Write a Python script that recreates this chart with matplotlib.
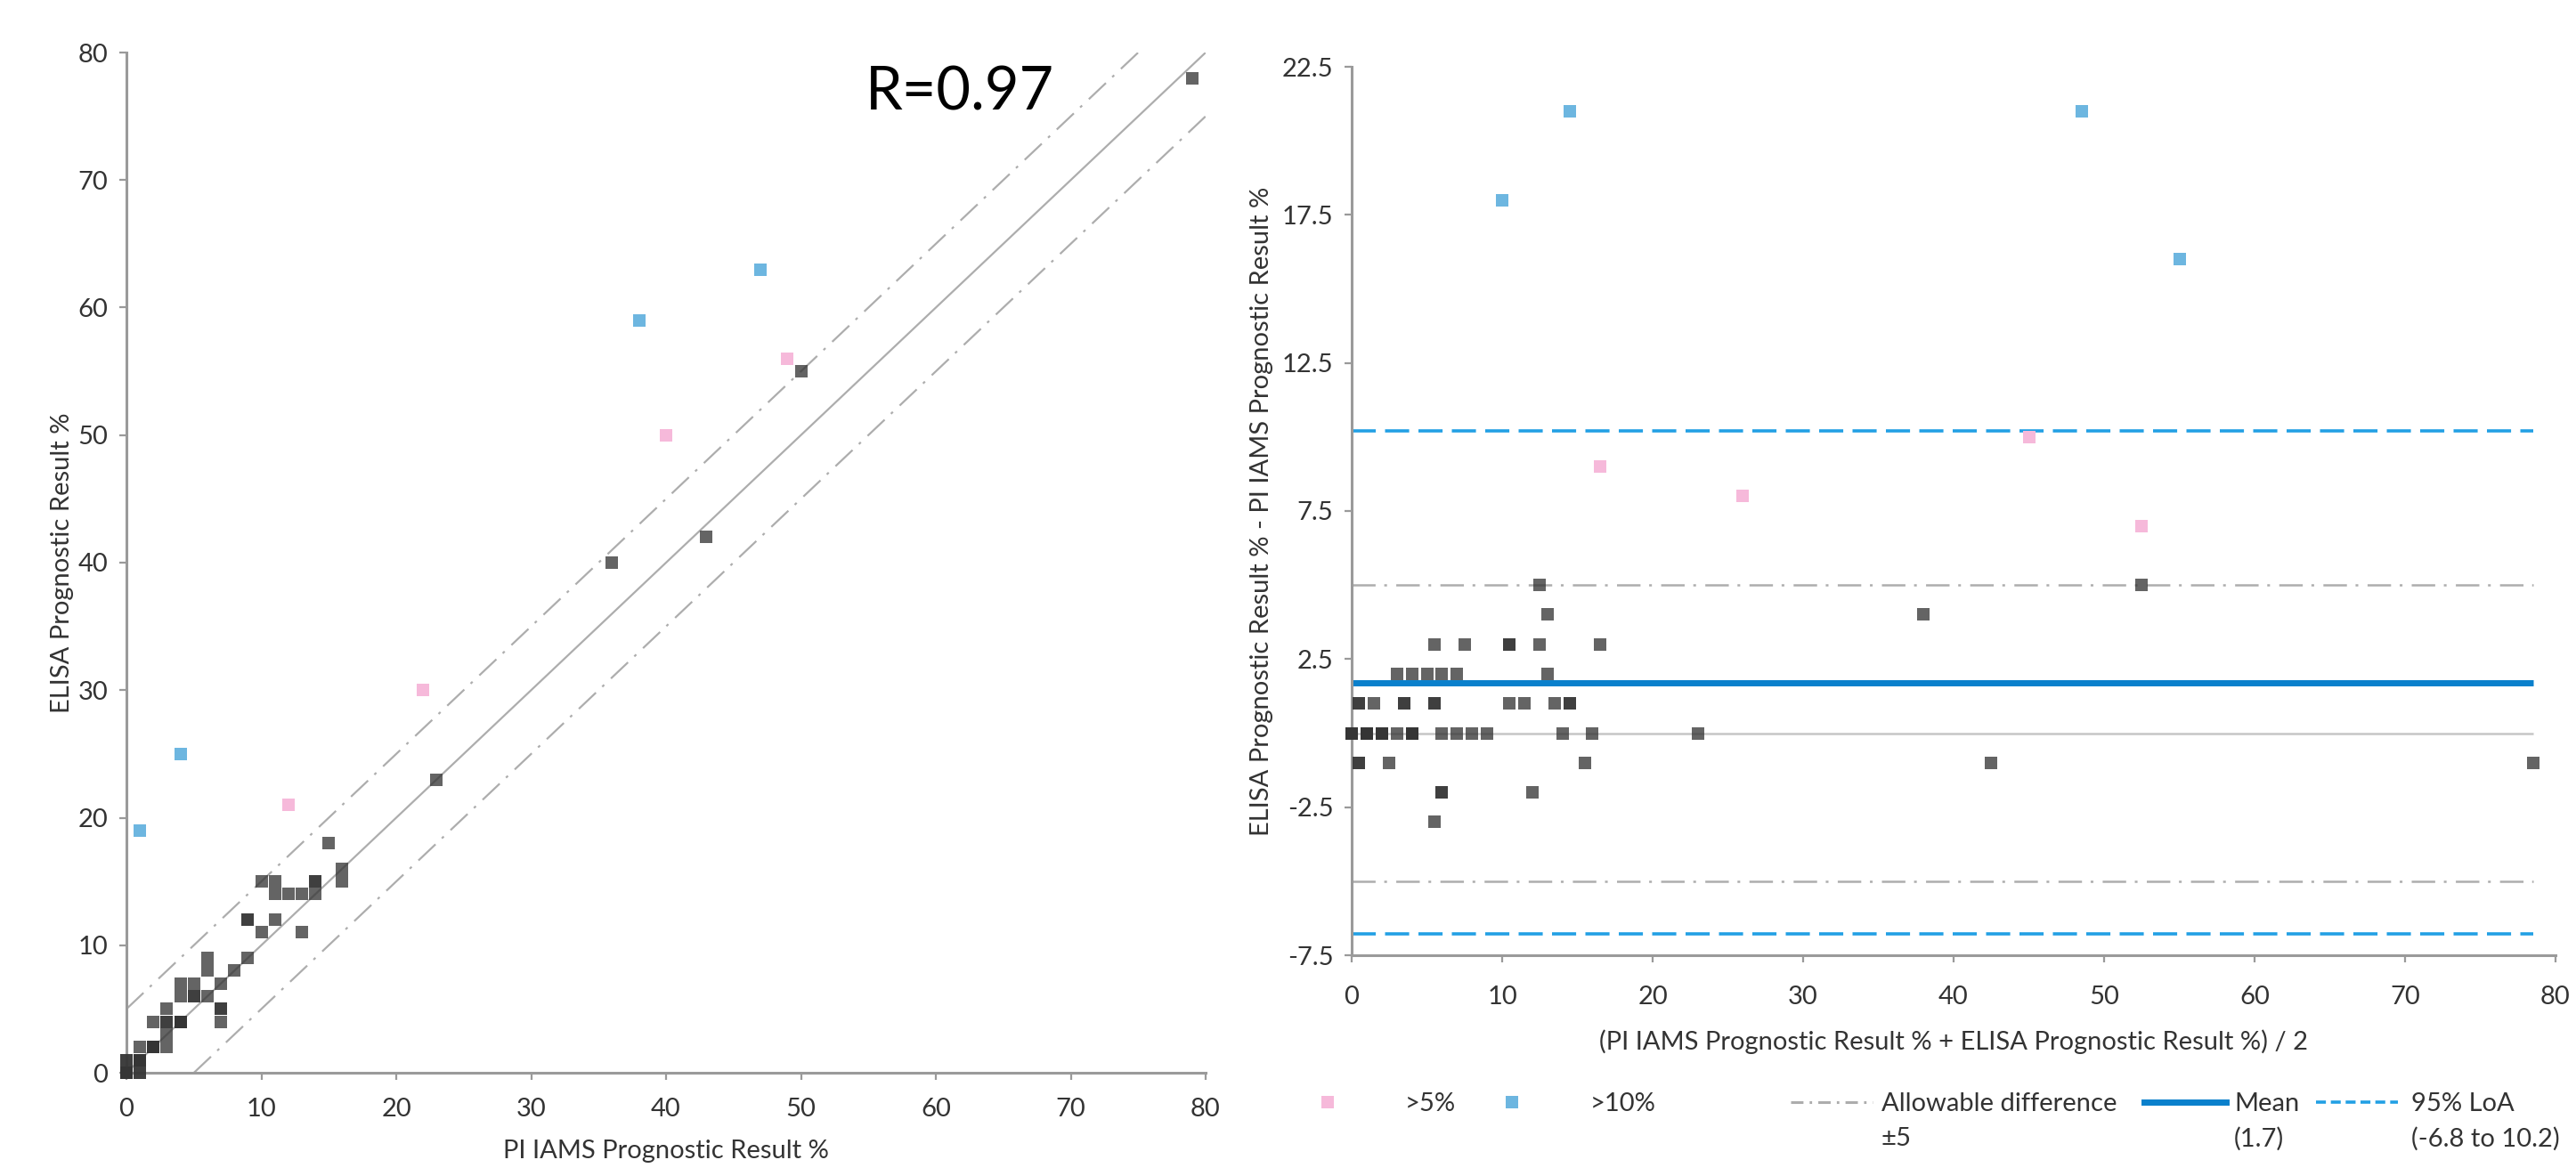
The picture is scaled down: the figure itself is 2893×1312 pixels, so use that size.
import numpy as np
import matplotlib
matplotlib.use("Agg")
import matplotlib.pyplot as plt
from matplotlib.lines import Line2D

plt.rcParams['font.family'] = ['Lato', 'DejaVu Sans']
plt.rcParams['axes.unicode_minus'] = False
plt.rcParams['lines.scale_dashes'] = False

# ---------------- data ----------------
# samples within +/-5 (grey)
within_pi = [0, 0, 0, 0, 0, 0, 0, 0, 0, 0, 0, 0, 0, 0, 0, 0, 0,
             0, 0, 1, 1, 1, 1, 1, 1, 1, 1, 1, 1, 2, 2, 2, 2, 2, 2, 2,
             2, 3, 3, 3, 3, 3, 4, 4, 4, 4, 4, 4, 4, 4, 5, 5, 5, 6, 6, 6,
             7, 7, 7, 7, 8, 9, 9, 9, 10, 10, 11, 11, 11, 12, 13, 13, 14,
             14, 14, 15, 16, 16, 23, 36, 43, 50, 79]
within_elisa = [0, 0, 0, 0, 0, 0, 0, 0, 0, 0, 0, 0, 0, 0, 0, 0, 0,
                1, 1, 0, 0, 1, 1, 1, 1, 1, 1, 1, 2, 2, 2, 2, 2, 2, 2, 2,
                4, 2, 3, 4, 4, 5, 4, 4, 4, 4, 4, 4, 6, 7, 6, 6, 7, 6, 8, 9,
                4, 5, 5, 7, 8, 9, 12, 12, 11, 15, 12, 14, 15, 14, 11, 14, 14,
                15, 15, 18, 15, 16, 23, 40, 42, 55, 78]
# difference > 5 (pink)
gt5_pi = [12, 22, 40, 49]
gt5_elisa = [21, 30, 50, 56]
# difference > 10 (blue)
gt10_pi = [1, 4, 38, 47]
gt10_elisa = [19, 25, 59, 63]

r_text = "R=0.97"
allow = 5
xy_ticks = [0, 10, 20, 30, 40, 50, 60, 70, 80]
ba_yticks = [-7.5, -2.5, 2.5, 7.5, 12.5, 17.5, 22.5]

# ---------------- styles ----------------
GREY_PT = '#353535'
PINK = '#F6B9DA'
BLUE_PT = '#6DB6E0'
MEAN_C = '#0A80CC'
LOA_C = '#22A0E4'
AXIS_C = '#9A9A9A'
LINE_C = '#ADADAD'
TXT = '#333333'
FS = 21
DASHDOT = (0, (19, 7, 2.2, 7.5))
MS = 9.6

W, H = 2893, 1312
fig = plt.figure(figsize=(W / 100, H / 100), dpi=100)

def style_axes(ax, xpad):
    for s in ['top', 'right']:
        ax.spines[s].set_visible(False)
    for s in ['left', 'bottom']:
        ax.spines[s].set_color(AXIS_C)
        ax.spines[s].set_linewidth(2.2)
    ax.tick_params(axis='both', colors=AXIS_C, length=5.8, width=1.6,
                   labelsize=FS, labelcolor=TXT, direction='out')
    ax.tick_params(axis='x', pad=xpad)
    ax.tick_params(axis='y', pad=9)

# ---------------- left: scatter ----------------
ax1 = fig.add_axes([142 / W, 1 - 1205 / H, 1212 / W, 1146 / H])
style_axes(ax1, 14)
lim = np.array([0, 80])
ax1.plot(lim, lim, color=LINE_C, lw=1.6, zorder=1)
ax1.plot(lim - [0, allow], lim - [0, allow] + allow, color=LINE_C, lw=1.6,
         linestyle=DASHDOT, zorder=1)
ax1.plot(lim + [allow, 0], lim + [allow, 0] - allow, color=LINE_C, lw=1.6,
         linestyle=DASHDOT, zorder=1)
ax1.plot(within_pi, within_elisa, 's', color=GREY_PT, alpha=0.77, ms=MS,
         mew=0, clip_on=False, zorder=3)
ax1.plot(gt5_pi, gt5_elisa, 's', color=PINK, ms=MS, mew=0, clip_on=False, zorder=4)
ax1.plot(gt10_pi, gt10_elisa, 's', color=BLUE_PT, ms=MS, mew=0, clip_on=False, zorder=4)
ax1.set_xlim(0, 80)
ax1.set_ylim(0, 80)
ax1.set_xticks(xy_ticks)
ax1.set_yticks(xy_ticks)
ax1.set_xlabel("PI IAMS Prognostic Result %", fontsize=FS, color=TXT)
ax1.set_ylabel("ELISA Prognostic Result %", fontsize=FS, color=TXT)
ax1.xaxis.set_label_coords(0.5, -(1293 - 1205) / 1146)
ax1.xaxis.label.set_va('center')
ax1.yaxis.set_label_coords(-(142 - 70) / 1212, 0.5)
ax1.yaxis.label.set_va('center')
ax1.text((972 - 142) / 1212, 1 - (105 - 59) / 1146, r_text, transform=ax1.transAxes,
         fontsize=48, color='black', ha='left', va='center')

# ---------------- right: Bland-Altman ----------------
all_pi = np.array(within_pi + gt5_pi + gt10_pi, dtype=float)
all_el = np.array(within_elisa + gt5_elisa + gt10_elisa, dtype=float)
diff_all = all_el - all_pi
mean_diff = diff_all.mean()
sd = diff_all.std(ddof=1)
loa_lo, loa_hi = mean_diff - 1.96 * sd, mean_diff + 1.96 * sd

def ba(p, e):
    p = np.asarray(p, float); e = np.asarray(e, float)
    return (p + e) / 2, e - p

m_w, d_w = ba(within_pi, within_elisa)
m_5, d_5 = ba(gt5_pi, gt5_elisa)
m_10, d_10 = ba(gt10_pi, gt10_elisa)
xmax = max(m_w.max(), m_5.max(), m_10.max())

ax2 = fig.add_axes([1518 / W, 1 - 1073 / H, 1352 / W, 998 / H])
style_axes(ax2, 19)
ax2.hlines(0, 0, xmax, color='#C6C6C6', lw=1.8, zorder=1)
ax2.hlines([allow, -allow], 0, xmax, color=LINE_C, lw=1.8, linestyles=[DASHDOT], zorder=1)
ax2.hlines(mean_diff, 0, xmax, color=MEAN_C, lw=5, zorder=2)
ax2.hlines([loa_lo, loa_hi], 0, xmax, color=LOA_C, lw=2.6,
           linestyles=[(0, (19.5, 7.5))], zorder=2)
ax2.plot(m_w, d_w, 's', color=GREY_PT, alpha=0.77, ms=MS, mew=0, clip_on=False, zorder=3)
ax2.plot(m_5, d_5, 's', color=PINK, ms=MS, mew=0, clip_on=False, zorder=4)
ax2.plot(m_10, d_10, 's', color=BLUE_PT, ms=MS, mew=0, clip_on=False, zorder=4)
ax2.set_xlim(0, 80)
ax2.set_ylim(-7.5, 22.5)
ax2.set_xticks(xy_ticks)
ax2.set_yticks(ba_yticks)
ax2.set_yticklabels([f"{v:.1f}" for v in ba_yticks])
ax2.set_xlabel("(PI IAMS Prognostic Result % + ELISA Prognostic Result %) / 2",
               fontsize=FS, color=TXT)
ax2.set_ylabel("ELISA Prognostic Result % - PI IAMS Prognostic Result %",
               fontsize=FS, color=TXT)
ax2.xaxis.set_label_coords(0.5, -(1170 - 1073) / 998)
ax2.xaxis.label.set_va('center')
ax2.yaxis.set_label_coords(-(1518 - 1417) / 1352, 0.5)
ax2.yaxis.label.set_va('center')

# ---------------- legend (one entry each) ----------------
row1 = 1 - 1240 / H
row2 = 1 - 1279 / H
em = FS * 100 / 72  # font size in px

def add_entry(handle, label, x_handle_start, handle_px, text_x, second=None):
    pad = (text_x - (x_handle_start + handle_px)) / em
    leg = fig.legend([handle], [label], loc='center left',
                     bbox_to_anchor=(x_handle_start / W, row1),
                     bbox_transform=fig.transFigure, frameon=False,
                     fontsize=FS, borderpad=0, borderaxespad=0,
                     handlelength=handle_px / em, handletextpad=pad,
                     labelcolor=TXT, numpoints=1)
    if second:
        fig.text(text_x / W, row2, second, fontsize=FS, color=TXT,
                 ha='left', va='center')
    return leg

add_entry(Line2D([], [], marker='s', ls='none', color=PINK, ms=MS, mew=0),
          ">5%", 1476, 30, 1578)
add_entry(Line2D([], [], marker='s', ls='none', color=BLUE_PT, ms=MS, mew=0),
          ">10%", 1683, 30, 1786)
add_entry(Line2D([], [], color=LINE_C, lw=2.2, ls=(0, (10, 5, 2, 5))),
          "Allowable difference", 2011, 92, 2113, "\u00b1" + str(allow))
add_entry(Line2D([], [], color=MEAN_C, lw=5),
          "Mean", 2408, 92, 2509, f"({mean_diff:.1f})")
add_entry(Line2D([], [], color=LOA_C, lw=2.6, ls=(0, (8, 4))),
          "95% LoA", 2601, 92, 2708, f"({loa_lo:.1f} to {loa_hi:.1f})")

fig.savefig("out.png", dpi=100, facecolor='white')
